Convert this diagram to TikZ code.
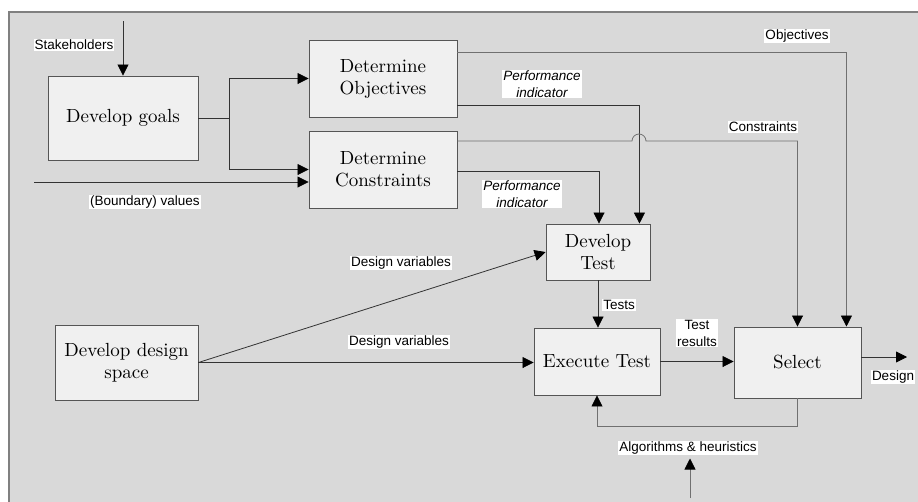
\documentclass[tikz,border=0pt]{standalone}
\usepackage{fontspec}
\newfontfamily\labelfont{Liberation Sans}
\newfontfamily\boxfont{lmroman10-regular}[Extension=.otf]
\usetikzlibrary{positioning, arrows.meta, calc}
\definecolor{panelgray}{HTML}{D9D9D9}
\definecolor{boxgray}{HTML}{F0F0F0}
\definecolor{edgegray}{HTML}{555555}
\definecolor{linegray}{HTML}{707070}
\tikzset{
  block/.style={draw=edgegray, fill=boxgray, line width=0.9pt, align=center, inner sep=0pt,
    font=\boxfont\fontsize{19}{22}\selectfont},
  arr/.style={draw=black!80, line width=0.8pt, -{Triangle[length=11pt,width=11pt,color=black]}},
  lbl/.style={fill=white, inner sep=1pt, align=center, font=\labelfont\fontsize{13.5}{17}\selectfont},
}
\begin{document}
\begin{tikzpicture}[x=1pt,y=-1pt]

\useasboundingbox (0,0) rectangle (918,501);
\clip (0,0) rectangle (918,501);

% panel
\draw[draw=gray, fill=panelgray, line width=1.2pt] (9,12) rectangle (940,520);

% blocks
\node[block, minimum width=150pt, minimum height=84pt] (goals) at (123,118) {Develop goals};
\node[block, minimum width=148pt, minimum height=77pt] (obj) at (383,78.5) {Determine\\Objectives};
\node[block, minimum width=148pt, minimum height=77pt] (cons) at (383,169.5) {Determine\\Constraints};
\node[block, minimum width=104pt, minimum height=56pt] (devtest) at (598,252) {Develop\\Test};
\node[block, minimum width=126pt, minimum height=67pt] (exectest) at (597,361.5) {Execute Test};
\node[block, minimum width=127pt, minimum height=71pt] (select) at (797.5,362.5) {Select};
\node[block, minimum width=143pt, minimum height=75pt] (space) at (126.5,362.5) {Develop design\\space};

% labels
\node[lbl] (stklbl) at (74,45) {Stakeholders};
\node[lbl] (bndlbl) at (145,202) {(Boundary) values};
\node[lbl] (objlbl) at (797,36) {Objectives};
\node[lbl, font=\labelfont\itshape\fontsize{13.5}{17}\selectfont] (pi1lbl) at (542,84) {Performance\\indicator};
\node[lbl] (conslbl) at (763,127) {Constraints};
\node[lbl, font=\labelfont\itshape\fontsize{13.5}{17}\selectfont] (pi2lbl) at (522,194) {Performance\\indicator};
\node[lbl] (dv1lbl) at (401,263) {Design variables};
\node[lbl] (dv2lbl) at (399,342) {Design variables};
\node[lbl] (testslbl) at (619,305) {Tests};
\node[lbl] (reslbl) at (697,333) {Test\\results};
\node[lbl] (designlbl) at (893,377) {Design};
\node[lbl] (alglbl) at (688,448) {Algorithms \& heuristics};

% free ends
\coordinate (stk) at (123,21);
\coordinate (bnd) at (34,182);
\coordinate (design) at (907,357);
\coordinate (alg) at (690,498);
\coordinate (jump) at (639,141);

% connectors
\draw[arr] (stk) -- (goals.north);
\draw[arr] (goals.east) -- ++(31,0) |- (obj.west);
\draw[arr] (goals.east) -- ++(31,0) |- (cons.west);
\draw[arr] (bnd) -- (bnd -| cons.west);
\draw[arr, draw=linegray] ([yshift=26.5pt]obj.east) -| ([xshift=-15pt]select.north east);
\draw[arr] ([yshift=-26.5pt]obj.east) -| ([xshift=-11pt]devtest.north east);
\draw[arr, draw=linegray] ([yshift=28.5pt]cons.east) -- ([xshift=-7pt]jump)
  arc[start angle=180, end angle=360, radius=7] -- (jump -| select.north) -- (select.north);
\draw[arr] ([yshift=-1.5pt]cons.east) -| ([xshift=1pt]devtest.north);
\draw[arr] (space.east) -- (devtest.west);
\draw[arr] (space.east) -- (space.east -| exectest.west);
\draw[arr] (devtest.south) -- (devtest.south |- exectest.north);
\draw[arr] (exectest.east) -- (exectest.east -| select.west);
\draw[arr] (select.east |- design) -- (design);
\draw[arr, draw=linegray] (select.south) -- ++(0,28) -| (exectest.south);
\draw[arr, draw=linegray, shorten >=3pt] (alg) -- (alg |- alglbl.south);

\end{tikzpicture}
\end{document}
